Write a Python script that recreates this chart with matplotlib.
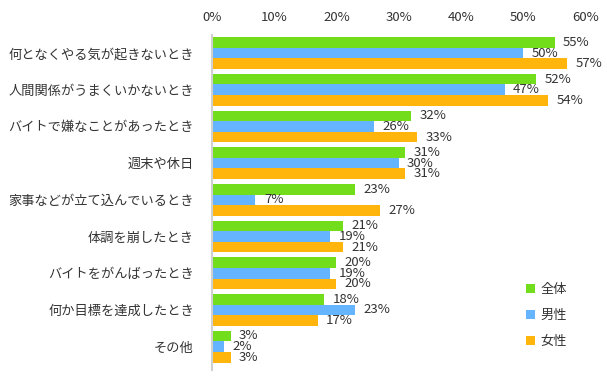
import numpy as np
import matplotlib.pyplot as plt

plt.rcParams['font.family'] = ['Noto Sans CJK JP', 'DejaVu Sans']

# categories and survey values (%)
categories = ['何となくやる気が起きないとき', '人間関係がうまくいかないとき', 'バイトで嫌なことがあったとき',
              '週末や休日', '家事などが立て込んでいるとき', '体調を崩したとき',
              'バイトをがんばったとき', '何か目標を達成したとき', 'その他']
series_names = ['全体', '男性', '女性']
total = [55, 52, 32, 31, 23, 21, 20, 18, 3]
male = [50, 47, 26, 30, 7, 19, 19, 23, 2]
female = [57, 54, 33, 31, 27, 21, 20, 17, 3]
xticks = [0, 10, 20, 30, 40, 50, 60]

colors = ['#71DD1B', '#64B4FF', '#FFB50B']
text_color = '#333333'

fig = plt.figure(figsize=(6.07, 3.78), dpi=100)
ax = fig.add_axes([0.349, 0.021, 0.616, 0.886])

y = np.arange(len(categories))
h = 0.29
for k, (vals, name) in enumerate(zip([total, male, female], series_names)):
    pos = y + (k - 1) * h
    ax.barh(pos, vals, height=h, color=colors[k], label=name)
    for p, v in zip(pos, vals):
        ax.annotate(f'{v}%', (v, p), xytext=(6, 0), textcoords='offset points',
                    va='center', ha='left', fontsize=9.5, color=text_color)

ax.set_xlim(0, 60)
ax.set_ylim(8.64, -0.49)
ax.set_xticks(xticks)
ax.set_xticklabels([f'{t}%' for t in xticks], fontsize=9.5, color=text_color)
ax.xaxis.tick_top()
ax.tick_params(axis='x', length=0, pad=8)
ax.set_yticks(y)
ax.set_yticklabels(categories, fontsize=9.5, color=text_color)
ax.tick_params(axis='y', length=0, pad=13)

for s in ['top', 'right', 'bottom']:
    ax.spines[s].set_visible(False)
ax.spines['left'].set_color('#d0d0d0')
ax.spines['left'].set_linewidth(1.5)

ax.legend(loc='upper left', bbox_to_anchor=(0.825, 0.275), frameon=False,
          handlelength=0.7, handleheight=0.7, labelspacing=0.97,
          handletextpad=0.45, fontsize=9.5, labelcolor=text_color,
          borderaxespad=0)

fig.savefig('out.png', dpi=100)
